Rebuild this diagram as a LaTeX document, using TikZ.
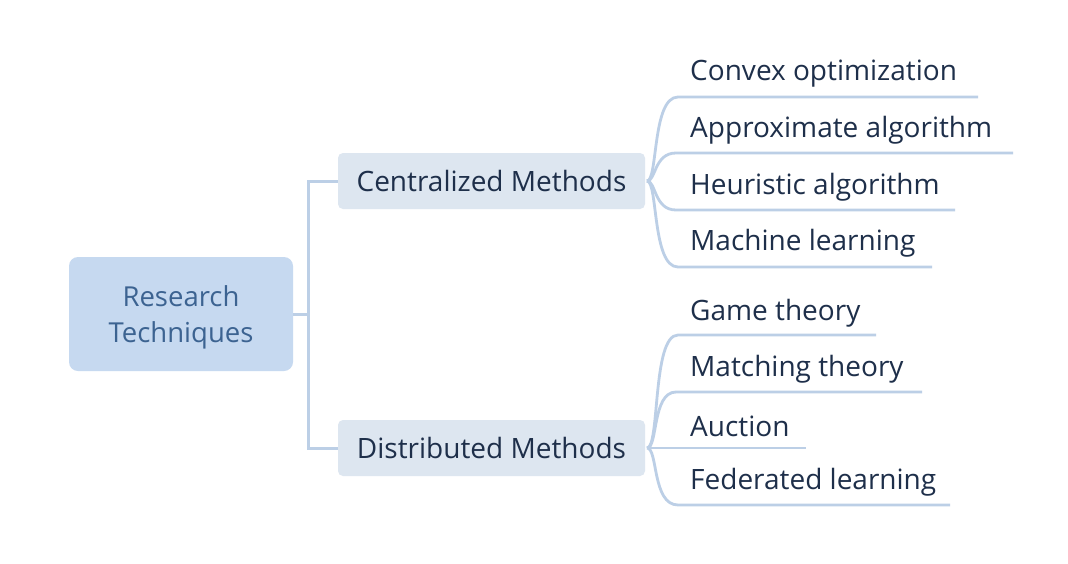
\documentclass[tikz,border=0pt]{standalone}
\usepackage{fontspec}
\setmainfont{Open Sans}
\definecolor{rootfill}{HTML}{C6D9F0}
\definecolor{midfill}{HTML}{DDE6F0}
\definecolor{rootink}{HTML}{3C6391}
\definecolor{ink}{HTML}{1E2F4A}
\definecolor{linec}{HTML}{BCCFE6}
\begin{document}
\begin{tikzpicture}[x=1pt,y=-1pt,
  rootbox/.style={fill=rootfill,rounded corners=9pt,minimum width=224pt,minimum height=114pt,align=center},
  roottext/.style={text=rootink,align=center,font=\fontsize{27.5}{36}\selectfont},
  midbox/.style={fill=midfill,rounded corners=5pt,minimum width=307pt,minimum height=56pt,text=ink,font=\fontsize{28}{32}\selectfont},
  leaf/.style={anchor=west,text=ink,inner sep=0pt,font=\fontsize{28}{32}\selectfont},
  conn/.style={draw=linec,line width=3pt},
  branch/.style={draw=linec,line width=2.8pt}]
\useasboundingbox (0,0) rectangle (1068,563);
\fill[white] (0,0) rectangle (1068,563);
\node[rootbox] (root) at (181,314) {};
\node[roottext] (rootlbl) at (181,317) {Research\\Techniques};
\node[midbox] (cen) at (491.5,181) {Centralized Methods};
\node[midbox] (dis) at (491.5,448) {Distributed Methods};
\coordinate (jn) at (308,314);
\draw[conn] (root.east) -- (jn);
\draw[conn,line cap=rect] (308,181) -- (308,448);
\draw[conn] (308,181) -- (cen.west);
\draw[conn] (308,448) -- (dis.west);
% centralized leaves
\node[leaf] (l1) at (690,74) {Convex optimization};
\node[leaf] (l2) at (690,130) {Approximate algorithm};
\node[leaf] (l3) at (690,187) {Heuristic algorithm};
\node[leaf] (l4) at (690,243) {Machine learning};
\coordinate (e1) at (978,97);
\coordinate (e2) at (1013,153);
\coordinate (e3) at (955,210);
\coordinate (e4) at (932,267);
\coordinate (cs) at (647,181);
\draw[branch] (cs) .. controls (658,181) and (652,97) .. (678,97) -- (e1);
\draw[branch] (cs) .. controls (656,181) and (654,153) .. (676,153) -- (e2);
\draw[branch] (cs) .. controls (656,181) and (654,210) .. (676,210) -- (e3);
\draw[branch] (cs) .. controls (658,181) and (652,267) .. (678,267) -- (e4);
% distributed leaves
\node[leaf] (d1) at (690,313) {Game theory};
\node[leaf] (d2) at (690,369) {Matching theory};
\node[leaf] (d3) at (690,426) {Auction};
\node[leaf] (d4) at (690,482) {Federated learning};
\coordinate (f1) at (876,335);
\coordinate (f2) at (922,392);
\coordinate (f3) at (806,448);
\coordinate (f4) at (950,505);
\coordinate (ds) at (647,448);
\draw[branch] (ds) .. controls (660,448) and (652,335) .. (678,335) -- (f1);
\draw[branch] (ds) .. controls (658,448) and (652,392) .. (676,392) -- (f2);
\draw[branch] (ds) -- (f3);
\draw[branch] (ds) .. controls (658,448) and (652,505) .. (678,505) -- (f4);
\end{tikzpicture}
\end{document}
